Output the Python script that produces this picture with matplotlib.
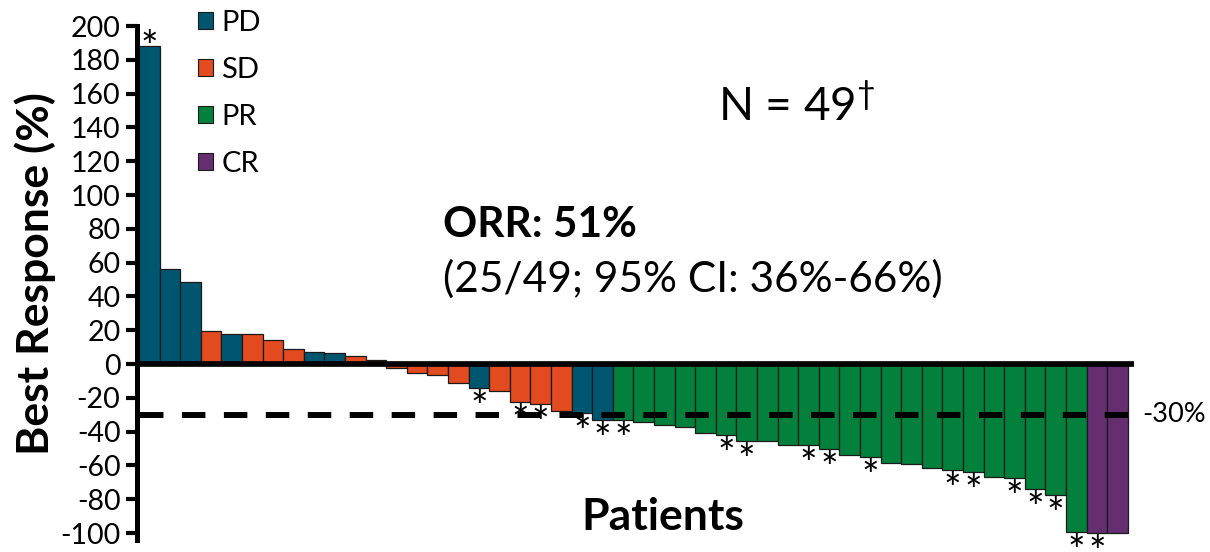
import matplotlib
matplotlib.use("Agg")
import matplotlib.pyplot as plt
from matplotlib.patches import Patch

plt.rcParams['font.family'] = ['Lato', 'DejaVu Sans']
plt.rcParams['mathtext.fontset'] = 'custom'
plt.rcParams['mathtext.rm'] = 'Lato'
plt.rcParams['mathtext.it'] = 'Lato'
plt.rcParams['lines.scale_dashes'] = False
plt.rcParams['axes.unicode_minus'] = False

# best response per patient (%), sorted as in the waterfall
responses = [188, 56, 48.5, 19.7, 17.7, 18, 14, 9, 7, 6.3, 4.7, 2.4,
             -2.5, -5.5, -6.5, -11.4, -14.4, -16, -22.7, -23.9, -27.6, -29.2,
             -33.1, -33.1, -34.5, -36.3, -37.5, -41, -41.8, -45.8, -45.8, -47.7,
             -48.1, -50.1, -54, -54.8, -58.8, -59.2, -61.7, -62.7, -63.7, -67,
             -67.2, -73.8, -77.7, -99.2, -100, -100]
status = (['PD', 'PD', 'PD', 'SD', 'PD', 'SD', 'SD', 'SD', 'PD', 'PD', 'SD', 'SD',
           'SD', 'SD', 'SD', 'SD', 'PD', 'SD', 'SD', 'SD', 'SD', 'PD', 'PD']
          + ['PR'] * 23 + ['CR'] * 2)
starred = [0, 16, 18, 19, 21, 22, 23, 28, 29, 32, 33, 35, 39, 40, 42, 43, 44, 45, 46]

categories = ['PD', 'SD', 'PR', 'CR']
colors = {'PD': '#00566F', 'SD': '#E24A1F', 'PR': '#03803C', 'CR': '#652E70'}

fig = plt.figure(figsize=(12.1, 5.52), dpi=100)
ax = fig.add_axes([136.5 / 1210, 12.2 / 552, (1134 - 136.5) / 1210, (539.8 - 26) / 552])

x = list(range(len(responses)))
ax.bar(x, responses, width=1.0, color=[colors[s] for s in status],
       edgecolor='#1a1a1a', linewidth=0.9, zorder=2)

# asterisks
for i in starred:
    v = responses[i]
    off = -15 if v > 0 else -33
    ax.annotate('*', (i, v), xytext=(0, off), textcoords='offset pixels',
                ha='center', va='baseline', fontsize=30, annotation_clip=False)

ax.axhline(0, color='black', lw=4.1, zorder=3)
ax.hlines(-30, -0.45, 47.5, colors='black', lw=4.3,
          linestyles=[(0, (16.9, 13.3))], zorder=4)
ax.text(48.2, -30, '-30%', ha='left', va='center', fontsize=19.5, clip_on=False)

ax.set_xlim(-0.62, 47.8)
ax.set_ylim(-104, 200)
ax.set_yticks(range(-100, 201, 20))
ax.set_xticks([])
ax.tick_params(axis='y', length=8, width=3, labelsize=20.5, pad=3.6)
for side in ['top', 'right', 'bottom']:
    ax.spines[side].set_visible(False)
ax.spines['left'].set_linewidth(3.6)
ax.spines['left'].set_bounds(-104, 200)

handles = [Patch(facecolor=colors[c], edgecolor='#1a1a1a', linewidth=0.8, label=c)
           for c in categories]
ax.legend(handles=handles, loc='upper left', bbox_to_anchor=(198 / 1210, 1 - 10 / 552),
          bbox_transform=fig.transFigure, frameon=False, fontsize=21,
          handlelength=0.52, handleheight=0.52, handletextpad=0.28,
          labelspacing=0.72, borderpad=0, borderaxespad=0)

fig.text(35 / 1210, 1 - 273.5 / 552, 'Best Response (%)', rotation=90,
         ha='center', va='center', fontsize=32, fontweight='bold')
fig.text(663 / 1210, 1 - 530 / 552, 'Patients', ha='center', va='baseline',
         fontsize=32, fontweight='bold')
fig.text(443 / 1210, 1 - 237 / 552, 'ORR: 51%', ha='left', va='baseline',
         fontsize=30.5, fontweight='bold')
fig.text(443 / 1210, 1 - 292 / 552, '(25/49; 95% CI: 36%-66%)', ha='left',
         va='baseline', fontsize=30.5)
fig.text(718 / 1210, 1 - 121 / 552, 'N = 49$^{\u2020}$', ha='left', va='baseline',
         fontsize=33)

fig.savefig('out.png', dpi=100)
